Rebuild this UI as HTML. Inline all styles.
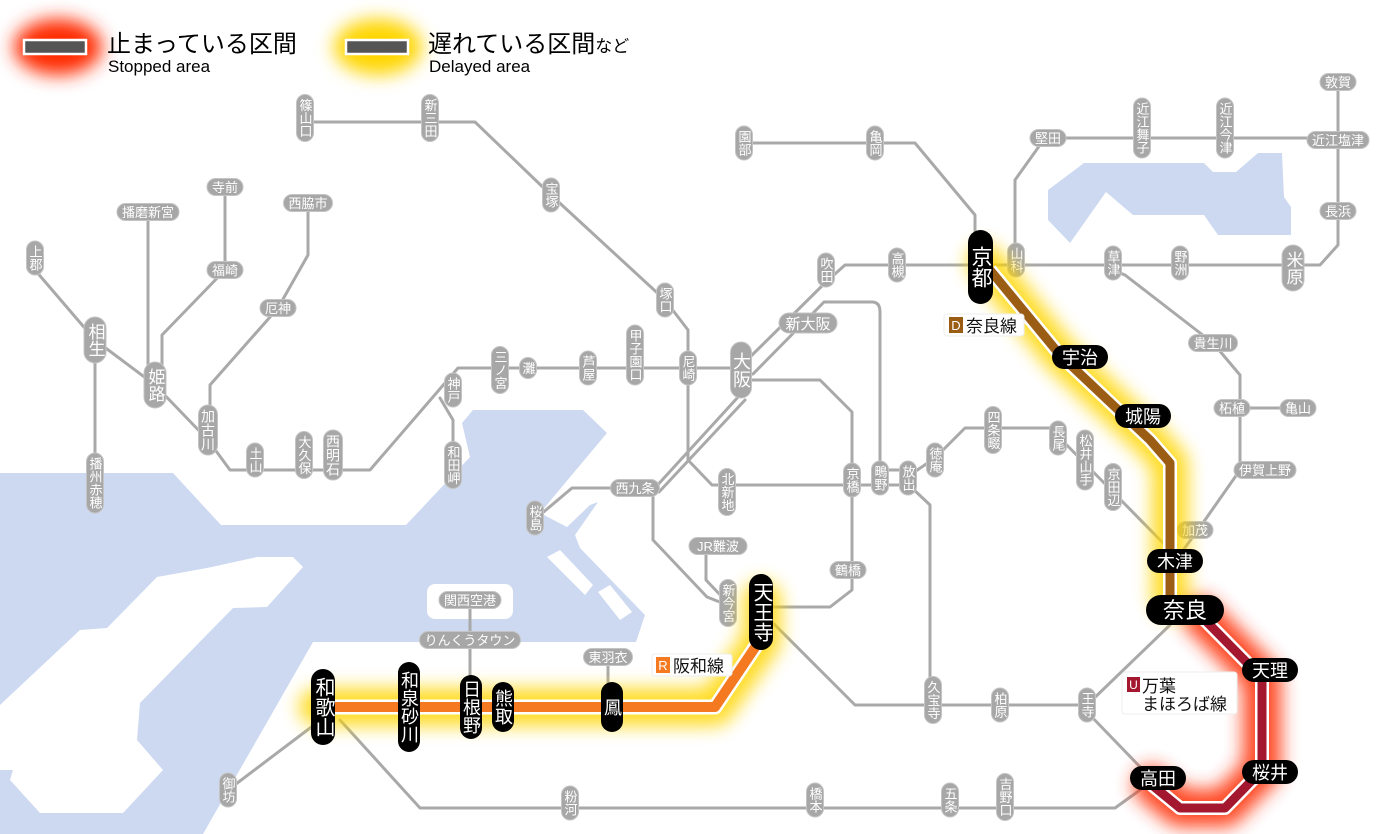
<!DOCTYPE html>
<html><head><meta charset="utf-8"><style>
html,body{margin:0;padding:0;background:#fff}
svg{display:block}
text{font-family:"Liberation Sans","Noto Sans CJK JP",sans-serif}
.l{fill:none;stroke:#a9a9a9;stroke-width:3;stroke-linejoin:round;stroke-linecap:round}
.g{fill:#a7a7a7;stroke:#c4c4c4;stroke-width:1}
.b{fill:#000}
.t{fill:#fff;font-size:13px;text-anchor:middle}
.v{writing-mode:vertical-rl;text-anchor:middle}
.bt{fill:#fff;font-size:18px;text-anchor:middle}
</style></head><body>
<svg width="1400" height="834" viewBox="0 0 1400 834" xmlns="http://www.w3.org/2000/svg">
<defs>
<filter id="bl" x="-50%" y="-50%" width="200%" height="200%"><feGaussianBlur stdDeviation="9"/></filter>
<filter id="bl2" x="-50%" y="-50%" width="200%" height="200%"><feGaussianBlur stdDeviation="9"/></filter>
</defs>
<!-- water -->
<g fill="#cdd9f1">
<path d="M0,473 H173 L221,525 H406 L470,457 L462,423 L473,410 H583 L607,433 L540,513 L567,527 L590,505 L598,502 L575,535 L580,548 L645,615 L636,642 H313 L203,834 H0 Z"/>
<path d="M1084,163 L1204,163 L1213,172 L1236,172 L1258,153 L1282,153 L1284,197 L1291,207 L1291,235 L1218,235 L1204,215 L1133,215 L1106,192 L1070,243 L1048,220 L1048,190 Z"/>
</g>
<g fill="#fff">
<path d="M0,705 L80,630 L107,628 L157,577 L207,568 L257,557 L293,557 L303,567 L267,607 L233,608 L140,703 L137,740 L163,770 L123,813 L40,813 L10,780 L13,770 L0,770 Z"/>
<rect x="427" y="584" width="86" height="35" rx="8"/>
<path d="M547,557 L560,550 L593,585 L585,595 Z"/>
<path d="M598,592 L610,585 L632,612 L620,620 Z"/>
</g>
<!-- gray lines -->
<g class="l">
<path d="M305,122 H475 L551,195 L665,300 L688,330 V368"/>
<path d="M35,270 L95,340 L155,385 L208,440 L230,470 H370 L445,383 L458,368 H741"/>
<path d="M95,340 V483"/>
<path d="M148,212 V385"/>
<path d="M225,187 V270 L162,335 V385"/>
<path d="M308,203 V255 L278,308 L210,385 V430"/>
<path d="M440,398 L453,420 V465"/>
<path d="M745,362 L826,282 L845,265 H1320 L1338,245 V82"/>
<path d="M753,374 L824,302 H872 Q880,302 880,312 V478"/>
<path d="M744,143 H915 L975,215 V240"/>
<path d="M1338,138 H1048 M1040,145 L1015,180 V265"/>
<path d="M1113,270 L1125,275 L1213,343 L1240,375 V470 L1198,530 L1175,561"/>
<path d="M1232,408 H1298"/>
<path d="M741,380 H820 L852,412 V590 L830,607 H765"/>
<path d="M735,608 L707,597 L653,540 V490 L739,396"/>
<path d="M745,400 L659,492"/>
<path d="M688,368 V460 L712,485 H908"/>
<path d="M880,470 H908"/>
<path d="M910,475 L935,458 L965,428 H1050 L1113,492 L1168,548"/>
<path d="M912,488 L930,505 V700"/>
<path d="M770,620 L855,705 H1087 L1170,625"/>
<path d="M1087,712 L1145,772"/>
<path d="M1140,790 L1115,808 H420 L340,720"/>
<path d="M228,790 L318,722"/>
<path d="M470,600 V705"/>
<path d="M608,657 V690"/>
<path d="M706,546 V580 L725,600"/>
<path d="M620,488 H572 L540,515"/>
</g>
<!-- gray vertical stations -->
<g>
<rect class="g" x="296.5" y="94.5" width="17" height="47" rx="8.5"/><text class="t v" x="305" y="118">篠山口</text>
<rect class="g" x="421.5" y="94.5" width="17" height="47" rx="8.5"/><text class="t v" x="430" y="118">新三田</text>
<rect class="g" x="542.5" y="178" width="17" height="34" rx="8.5"/><text class="t v" x="551" y="195">宝塚</text>
<rect class="g" x="656.5" y="283" width="17" height="34" rx="8.5"/><text class="t v" x="665" y="300">塚口</text>
<rect class="g" x="26.5" y="241" width="17" height="34" rx="8.5"/><text class="t v" x="35" y="258">上郡</text>
<rect class="g" x="84" y="317" width="22" height="46" rx="11"/><text class="t v" x="95" y="340" style="font-size:17px">相生</text>
<rect class="g" x="144" y="362" width="22" height="46" rx="11"/><text class="t v" x="155" y="385" style="font-size:17px">姫路</text>
<rect class="g" x="198.5" y="405" width="19" height="50" rx="9.5"/><text class="t v" x="208" y="430" style="font-size:14px">加古川</text>
<rect class="g" x="246.5" y="443" width="17" height="34" rx="8.5"/><text class="t v" x="255" y="460">土山</text>
<rect class="g" x="295.5" y="431.5" width="17" height="47" rx="8.5"/><text class="t v" x="304" y="455">大久保</text>
<rect class="g" x="323.5" y="430" width="19" height="50" rx="9.5"/><text class="t v" x="333" y="455" style="font-size:14px">西明石</text>
<rect class="g" x="444.5" y="373" width="17" height="34" rx="8.5"/><text class="t v" x="453" y="390">神戸</text>
<rect class="g" x="491.5" y="346.5" width="17" height="47" rx="8.5"/><text class="t v" x="500" y="370">三ノ宮</text>
<rect class="g" x="519.5" y="357.5" width="17" height="21" rx="8.5"/><text class="t v" x="528" y="368">灘</text>
<rect class="g" x="579.5" y="351" width="17" height="34" rx="8.5"/><text class="t v" x="588" y="368">芦屋</text>
<rect class="g" x="626.5" y="325" width="17" height="60" rx="8.5"/><text class="t v" x="635" y="355">甲子園口</text>
<rect class="g" x="679.5" y="351" width="17" height="34" rx="8.5"/><text class="t v" x="688" y="368">尼崎</text>
<rect class="g" x="730.5" y="342" width="21" height="56" rx="10.5"/><text class="t v" x="741" y="370" style="font-size:18px">大阪</text>
<rect class="g" x="444.5" y="441.5" width="17" height="47" rx="8.5"/><text class="t v" x="453" y="465">和田岬</text>
<rect class="g" x="86.5" y="453" width="17" height="60" rx="8.5"/><text class="t v" x="95" y="483">播州赤穂</text>
<rect class="g" x="817.5" y="253" width="17" height="34" rx="8.5"/><text class="t v" x="826" y="270">吹田</text>
<rect class="g" x="888.5" y="248" width="17" height="34" rx="8.5"/><text class="t v" x="897" y="265">高槻</text>
<rect class="g" x="735.5" y="126" width="17" height="34" rx="8.5"/><text class="t v" x="744" y="143">園部</text>
<rect class="g" x="866.5" y="126" width="17" height="34" rx="8.5"/><text class="t v" x="875" y="143">亀岡</text>
<rect class="g" x="1007.5" y="243" width="17" height="34" rx="8.5"/><text class="t v" x="1016" y="260">山科</text>
<rect class="g" x="1104.5" y="246" width="17" height="34" rx="8.5"/><text class="t v" x="1113" y="263">草津</text>
<rect class="g" x="1171.5" y="246" width="17" height="34" rx="8.5"/><text class="t v" x="1180" y="263">野洲</text>
<rect class="g" x="1282" y="245" width="22" height="46" rx="11"/><text class="t v" x="1293" y="268" style="font-size:17px">米原</text>
<rect class="g" x="1133.5" y="98" width="17" height="60" rx="8.5"/><text class="t v" x="1142" y="128">近江舞子</text>
<rect class="g" x="1216.5" y="98" width="17" height="60" rx="8.5"/><text class="t v" x="1225" y="128">近江今津</text>
<rect class="g" x="718.5" y="468.5" width="17" height="47" rx="8.5"/><text class="t v" x="727" y="492">北新地</text>
<rect class="g" x="843.5" y="463" width="17" height="34" rx="8.5"/><text class="t v" x="852" y="480">京橋</text>
<rect class="g" x="871.5" y="461" width="17" height="34" rx="8.5"/><text class="t v" x="880" y="478">鴫野</text>
<rect class="g" x="899.5" y="461" width="17" height="34" rx="8.5"/><text class="t v" x="908" y="478">放出</text>
<rect class="g" x="926.5" y="443" width="17" height="34" rx="8.5"/><text class="t v" x="935" y="460">徳庵</text>
<rect class="g" x="984.5" y="406.5" width="17" height="47" rx="8.5"/><text class="t v" x="993" y="430">四条畷</text>
<rect class="g" x="1049.5" y="421" width="17" height="34" rx="8.5"/><text class="t v" x="1058" y="438">長尾</text>
<rect class="g" x="1076.5" y="430" width="17" height="60" rx="8.5"/><text class="t v" x="1085" y="460">松井山手</text>
<rect class="g" x="1104.5" y="463.5" width="17" height="47" rx="8.5"/><text class="t v" x="1113" y="487">京田辺</text>
<rect class="g" x="924.5" y="676.5" width="17" height="47" rx="8.5"/><text class="t v" x="933" y="700">久宝寺</text>
<rect class="g" x="991.5" y="688" width="17" height="34" rx="8.5"/><text class="t v" x="1000" y="705">柏原</text>
<rect class="g" x="1078.5" y="688" width="17" height="34" rx="8.5"/><text class="t v" x="1087" y="705">王寺</text>
<rect class="g" x="526.5" y="501" width="17" height="34" rx="8.5"/><text class="t v" x="535" y="518">桜島</text>
<rect class="g" x="719.5" y="579.5" width="17" height="47" rx="8.5"/><text class="t v" x="728" y="603">新今宮</text>
<rect class="g" x="561.5" y="786" width="17" height="34" rx="8.5"/><text class="t v" x="570" y="803">粉河</text>
<rect class="g" x="806.5" y="783" width="17" height="34" rx="8.5"/><text class="t v" x="815" y="800">橋本</text>
<rect class="g" x="941.5" y="783" width="17" height="34" rx="8.5"/><text class="t v" x="950" y="800">五条</text>
<rect class="g" x="996.5" y="773.5" width="17" height="47" rx="8.5"/><text class="t v" x="1005" y="797">吉野口</text>
<rect class="g" x="219.5" y="773" width="17" height="34" rx="8.5"/><text class="t v" x="228" y="790">御坊</text>
</g>
<!-- gray horizontal stations -->
<g>
<rect class="g" x="207" y="178.5" width="36" height="17" rx="8.5"/><text class="t" x="225" y="192">寺前</text>
<rect class="g" x="117" y="203.5" width="62" height="17" rx="8.5"/><text class="t" x="148" y="217">播磨新宮</text>
<rect class="g" x="283.5" y="194.5" width="49" height="17" rx="8.5"/><text class="t" x="308" y="208">西脇市</text>
<rect class="g" x="207" y="261.5" width="36" height="17" rx="8.5"/><text class="t" x="225" y="275">福崎</text>
<rect class="g" x="260" y="299.5" width="36" height="17" rx="8.5"/><text class="t" x="278" y="313">厄神</text>
<rect class="g" x="779" y="313" width="58" height="20" rx="10"/><text class="t" x="808" y="329" style="font-size:15px">新大阪</text>
<rect class="g" x="610.5" y="479.5" width="49" height="17" rx="8.5"/><text class="t" x="635" y="493">西九条</text>
<rect class="g" x="689" y="537.5" width="58" height="17" rx="8.5"/><text class="t" x="718" y="551">JR難波</text>
<rect class="g" x="830" y="561.5" width="36" height="17" rx="8.5"/><text class="t" x="848" y="575">鶴橋</text>
<rect class="g" x="439" y="591.5" width="62" height="17" rx="8.5"/><text class="t" x="470" y="605">関西空港</text>
<rect class="g" x="419.5" y="631.5" width="101" height="17" rx="8.5"/><text class="t" x="470" y="645">りんくうタウン</text>
<rect class="g" x="583.5" y="648.5" width="49" height="17" rx="8.5"/><text class="t" x="608" y="662">東羽衣</text>
<rect class="g" x="1030" y="129.5" width="36" height="17" rx="8.5"/><text class="t" x="1048" y="143">堅田</text>
<rect class="g" x="1320" y="73.5" width="36" height="17" rx="8.5"/><text class="t" x="1338" y="87">敦賀</text>
<rect class="g" x="1307" y="131.5" width="62" height="17" rx="8.5"/><text class="t" x="1338" y="145">近江塩津</text>
<rect class="g" x="1320" y="202.5" width="36" height="17" rx="8.5"/><text class="t" x="1338" y="216">長浜</text>
<rect class="g" x="1188.5" y="334.5" width="49" height="17" rx="8.5"/><text class="t" x="1213" y="348">貴生川</text>
<rect class="g" x="1214" y="399.5" width="36" height="17" rx="8.5"/><text class="t" x="1232" y="413">柘植</text>
<rect class="g" x="1280" y="399.5" width="36" height="17" rx="8.5"/><text class="t" x="1298" y="413">亀山</text>
<rect class="g" x="1234" y="461.5" width="62" height="17" rx="8.5"/><text class="t" x="1265" y="475">伊賀上野</text>
<rect class="g" x="1177" y="521.5" width="36" height="17" rx="8.5"/><text class="t" x="1195" y="535">加茂</text>
</g>
<!-- glows -->
<g fill="none" stroke-linejoin="round" stroke-linecap="round" filter="url(#bl)" opacity="0.85">
<path d="M985,262 L1060,355 L1150,440 L1170,463 V600" stroke="#ffd600" stroke-width="36"/>
<path d="M762,600 V640 L715,707 H318" stroke="#ffd600" stroke-width="38"/>
<path d="M1200,615 L1262,678 V770 L1225,808 H1180 L1152,785" stroke="#ff2a00" stroke-width="38"/>
</g>
<!-- colored lines -->
<g fill="none" stroke-linejoin="round">
<path d="M990,270 L1060,355 L1150,440 L1170,463 V600" stroke="#fff" stroke-width="14"/>
<path d="M990,270 L1060,355 L1150,440 L1170,463 V600" stroke="#9b5c13" stroke-width="9"/>
<path d="M760,640 L715,707 H322" stroke="#fff" stroke-width="15"/>
<path d="M760,640 L715,707 H322" stroke="#f47920" stroke-width="10"/>
<path d="M1200,615 L1262,678 V770 L1225,808 H1180 L1152,785" stroke="#fff" stroke-width="14"/>
<path d="M1200,615 L1262,678 V770 L1225,808 H1180 L1152,785" stroke="#a3172f" stroke-width="9"/>
</g>
<!-- black stations -->
<g>
<rect class="b" x="968" y="230" width="25" height="74" rx="12.5"/><text class="bt v" x="980.5" y="267" style="font-size:21px">京都</text>
<rect class="b" x="749" y="574" width="24" height="76" rx="12"/><text class="bt v" x="761" y="612" style="font-size:20px">天王寺</text>
<rect class="b" x="311" y="669" width="24" height="76" rx="12"/><text class="bt v" x="323" y="707" style="font-size:20px">和歌山</text>
<rect class="b" x="398" y="662" width="22" height="90" rx="11"/><text class="bt v" x="409" y="707">和泉砂川</text>
<rect class="b" x="460" y="675" width="22" height="64" rx="11"/><text class="bt v" x="471" y="707">日根野</text>
<rect class="b" x="492" y="682" width="22" height="50" rx="11"/><text class="bt v" x="503" y="707">熊取</text>
<rect class="b" x="601" y="682" width="22" height="50" rx="11"/><text class="bt v" x="612" y="707">鳳</text>
<rect class="b" x="1052" y="345" width="56" height="24" rx="12"/><text class="bt" x="1080" y="364">宇治</text>
<rect class="b" x="1115" y="404" width="56" height="24" rx="12"/><text class="bt" x="1143" y="423">城陽</text>
<rect class="b" x="1147" y="549" width="56" height="24" rx="12"/><text class="bt" x="1175" y="568">木津</text>
<rect class="b" x="1146" y="595" width="78" height="30" rx="15"/><text class="bt" x="1185" y="618" style="font-size:22px">奈良</text>
<rect class="b" x="1242" y="658" width="56" height="24" rx="12"/><text class="bt" x="1270" y="677">天理</text>
<rect class="b" x="1242" y="760" width="56" height="24" rx="12"/><text class="bt" x="1270" y="779">桜井</text>
<rect class="b" x="1130" y="766" width="56" height="24" rx="12"/><text class="bt" x="1158" y="785">高田</text>
</g>
<!-- line labels -->
<g>
<rect x="944" y="314" width="80" height="22" rx="3" fill="#fff" stroke="#eee"/>
<rect x="949" y="317" width="14" height="16" fill="#9b5c13"/><text x="956" y="330" fill="#fff" font-size="13" text-anchor="middle">D</text>
<text x="966" y="332" fill="#111" font-size="17">奈良線</text>
<rect x="652" y="654" width="80" height="22" rx="3" fill="#fff" stroke="#eee"/>
<rect x="656" y="657" width="14" height="16" fill="#f47920"/><text x="663" y="670" fill="#fff" font-size="13" text-anchor="middle">R</text>
<text x="673" y="672" fill="#111" font-size="17">阪和線</text>
<rect x="1122" y="672" width="115" height="42" rx="3" fill="#fff" stroke="#eee"/>
<rect x="1127" y="677" width="13" height="15" fill="#a3172f"/><text x="1133.5" y="689" fill="#fff" font-size="12" text-anchor="middle">U</text>
<text x="1142" y="692" fill="#111" font-size="17">万葉</text>
<text x="1142" y="710" fill="#111" font-size="17">まほろば線</text>
</g>
<!-- legend -->
<ellipse cx="58" cy="47" rx="44" ry="28" fill="#ff2a00" filter="url(#bl2)"/>
<rect x="24" y="40" width="62" height="14" fill="#555" stroke="#fff" stroke-width="2.5"/>
<text x="107" y="52" font-size="24" fill="#000">止まっている区間</text>
<text x="108" y="72" font-size="17" fill="#000">Stopped area</text>
<ellipse cx="378" cy="47" rx="44" ry="28" fill="#ffd600" filter="url(#bl2)"/>
<rect x="346" y="40" width="62" height="14" fill="#555" stroke="#fff" stroke-width="2.5"/>
<text x="428" y="52" font-size="24" fill="#000">遅れている区間<tspan font-size="17">など</tspan></text>
<text x="429" y="72" font-size="17" fill="#000">Delayed area</text>
</svg>
</body></html>
